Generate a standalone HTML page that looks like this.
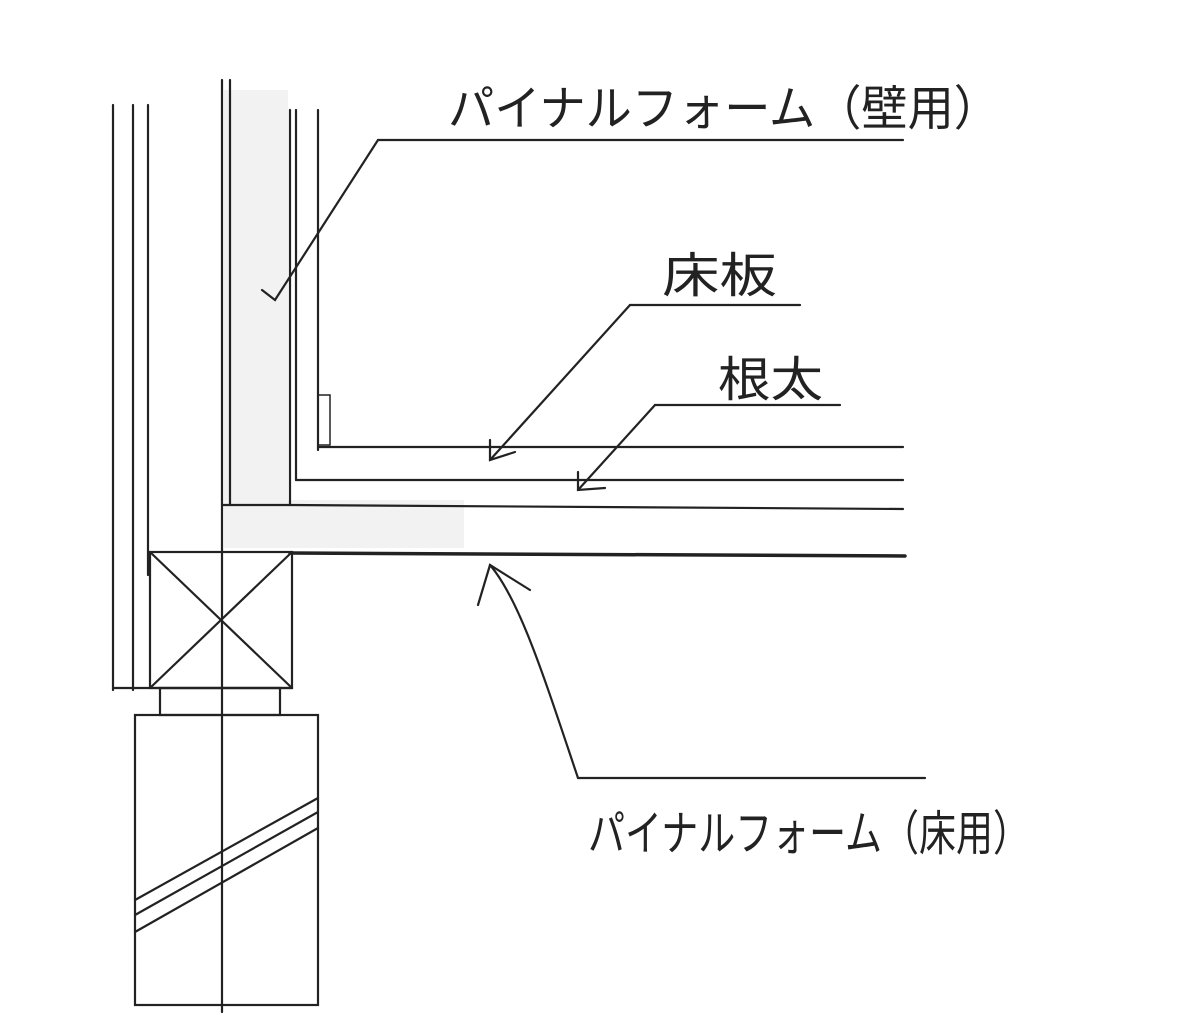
<!DOCTYPE html>
<html><head><meta charset="utf-8"><style>
html,body{margin:0;padding:0;background:#fff;}
svg{display:block}
text{font-family:"Liberation Sans","Noto Sans CJK JP",sans-serif;fill:#222;}
</style></head><body>
<svg width="1200" height="1025" viewBox="0 0 1200 1025" xmlns="http://www.w3.org/2000/svg">
<g stroke="#222" fill="none" stroke-width="2.2" stroke-linecap="round">
<rect x="224" y="90" width="64" height="415" fill="#f2f2f2" stroke="none"/>
<rect x="224" y="500" width="240" height="48" fill="#f2f2f2" stroke="none"/>
<line x1="113" y1="105" x2="113" y2="690"/>
<line x1="133" y1="105" x2="133" y2="690"/>
<line x1="148" y1="105" x2="148" y2="575"/>
<line x1="113" y1="688" x2="292" y2="688"/>
<line x1="222" y1="80" x2="222" y2="1012"/>
<line x1="230" y1="80" x2="230" y2="505"/>
<line x1="290" y1="110" x2="290" y2="505"/>
<line x1="296" y1="110" x2="296" y2="480"/>
<line x1="318" y1="110" x2="318" y2="450"/>
<rect x="318" y="395" width="12" height="50" stroke-width="1.5"/>
<line x1="318" y1="447" x2="903" y2="447"/>
<line x1="296" y1="480" x2="903" y2="480"/>
<line x1="290" y1="505" x2="903" y2="509"/>
<line x1="222" y1="505" x2="290" y2="505"/>
<line x1="290" y1="553" x2="905" y2="556" stroke-width="3.5"/>
<rect x="150" y="552" width="142" height="136"/>
<line x1="150" y1="552" x2="292" y2="688"/>
<line x1="292" y1="552" x2="150" y2="688"/>
<rect x="160" y="688" width="120" height="27"/>
<rect x="135" y="715" width="183" height="290"/>
<line x1="135" y1="900" x2="318" y2="798"/>
<line x1="135" y1="915" x2="318" y2="812"/>
<line x1="135" y1="932" x2="318" y2="828"/>
<line x1="378" y1="140" x2="903" y2="140"/>
<polyline points="378,140 275,300 262,290"/>
<line x1="630" y1="305" x2="800" y2="305"/>
<polyline points="630,305 490,460"/>
<polyline points="490,440 490,460 515,452"/>
<line x1="655" y1="405" x2="840" y2="405"/>
<polyline points="655,405 578,490"/>
<polyline points="578,472 578,490 605,488"/>
<line x1="578" y1="778" x2="925" y2="778"/>
<path d="M578,778 C545,680 520,600 490,565"/>
<polyline points="478,605 490,565 530,590"/>
</g>
<text x="448" y="125" font-size="48" textLength="552" lengthAdjust="spacingAndGlyphs">パイナルフォーム（壁用）</text>
<text x="662" y="292" font-size="48" textLength="115" lengthAdjust="spacingAndGlyphs">床板</text>
<text x="718" y="396" font-size="48" textLength="105" lengthAdjust="spacingAndGlyphs">根太</text>
<text x="588" y="850" font-size="48" textLength="442" lengthAdjust="spacingAndGlyphs">パイナルフォーム（床用）</text>
</svg>
</body></html>
